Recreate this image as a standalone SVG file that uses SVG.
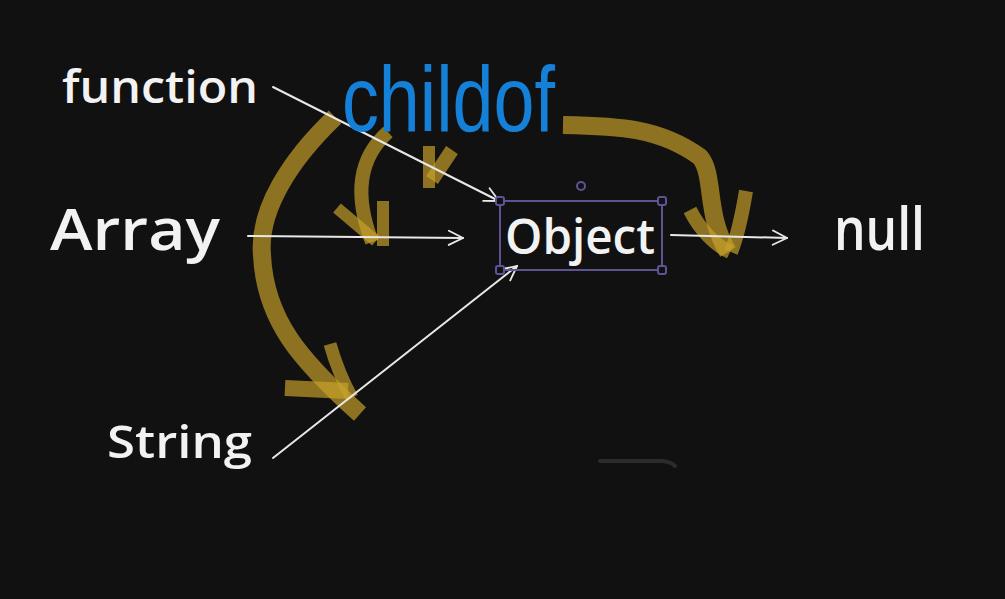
<svg xmlns="http://www.w3.org/2000/svg" width="1005" height="599" viewBox="0 0 1005 599">
<defs>
<style>
.lbl{fill:#f2f2f2;font-family:"Open Sans","Liberation Sans",sans-serif;font-weight:600;}
.wl{stroke:#e8e8e8;stroke-width:2;fill:none;stroke-linecap:round}
.y{stroke:#c9a22a;stroke-opacity:0.68;fill:none;stroke-linecap:butt;stroke-linejoin:round}
.sel{stroke:#5e5494;stroke-width:2;fill:#111}
</style>
<marker id="ah" viewBox="0 0 12 12" refX="11" refY="6" markerWidth="17" markerHeight="17" markerUnits="userSpaceOnUse" orient="auto">
<path d="M1,1 L11,6 L1,11" fill="none" stroke="#e8e8e8" stroke-width="1.3" stroke-linecap="round"/>
</marker>
</defs>
<rect width="1005" height="599" fill="#111111"/>

<g id="annotations">
<path class="y" stroke-width="18" d="M335,117 C290,160 258,210 262,255 C265,320 300,360 360,414"/>
<path class="y" stroke-width="16" d="M285,388 L348,391"/>
<path class="y" stroke-width="13" d="M330,344 C336,365 342,380 352,398"/>
<path class="y" stroke-width="14" d="M388,132 C362,155 352,190 372,242"/>
<path class="y" stroke-width="12" d="M337,208 L376,241"/>
<path class="y" stroke-width="12" d="M383,201 L383,246"/>
<path class="y" stroke-width="12" d="M429,146 L429,188"/>
<path class="y" stroke-width="14" d="M452,150 L432,180"/>
<path class="y" stroke-width="18" d="M563,125 C620,126 660,128 700,157 C715,175 705,215 728,252"/>
<path class="y" stroke-width="14" d="M690,210 C700,230 715,245 730,252"/>
<path class="y" stroke-width="14" d="M746,191 C742,215 738,235 731,252"/>
<path d="M600,461 L662,461 Q672,462 675,466" stroke="#2c2c2c" stroke-width="4" fill="none" stroke-linecap="round"/>
</g>

<g id="connectors">
<line class="wl" x1="273" y1="87" x2="499" y2="201" marker-end="url(#ah)"/>
<line class="wl" x1="248" y1="236" x2="463" y2="238" marker-end="url(#ah)"/>
<line class="wl" x1="273" y1="458" x2="517" y2="266" marker-end="url(#ah)"/>
<line class="wl" x1="671" y1="235" x2="787" y2="238" marker-end="url(#ah)"/>
</g>

<g id="label-childof">
<text x="342" y="131" font-family="'Liberation Sans',sans-serif" font-size="92" fill="#1580d8" textLength="213" lengthAdjust="spacingAndGlyphs">childof</text>
</g>

<g id="node-function">
<text class="lbl" x="62" y="103" font-size="46" textLength="196" lengthAdjust="spacingAndGlyphs">function</text>
</g>
<g id="node-array">
<text class="lbl" x="50" y="250" font-size="58" textLength="170" lengthAdjust="spacingAndGlyphs">Array</text>
</g>
<g id="node-string">
<text class="lbl" x="107" y="458" font-size="46" textLength="145" lengthAdjust="spacingAndGlyphs">String</text>
</g>
<g id="node-null">
<text class="lbl" x="834" y="250" font-size="60" textLength="91" lengthAdjust="spacingAndGlyphs">null</text>
</g>
<g id="node-object">
<rect x="500" y="201" width="162" height="69" fill="none" stroke="#5e5494" stroke-width="2"/>
<rect class="sel" x="496" y="197" width="8" height="8" rx="2"/>
<rect class="sel" x="658" y="197" width="8" height="8" rx="2"/>
<rect class="sel" x="496" y="266" width="8" height="8" rx="2"/>
<rect class="sel" x="658" y="266" width="8" height="8" rx="2"/>
<circle class="sel" cx="581" cy="186" r="4"/>
<text class="lbl" x="505" y="254" font-size="48" textLength="150" lengthAdjust="spacingAndGlyphs">Object</text>
</g>
</svg>
